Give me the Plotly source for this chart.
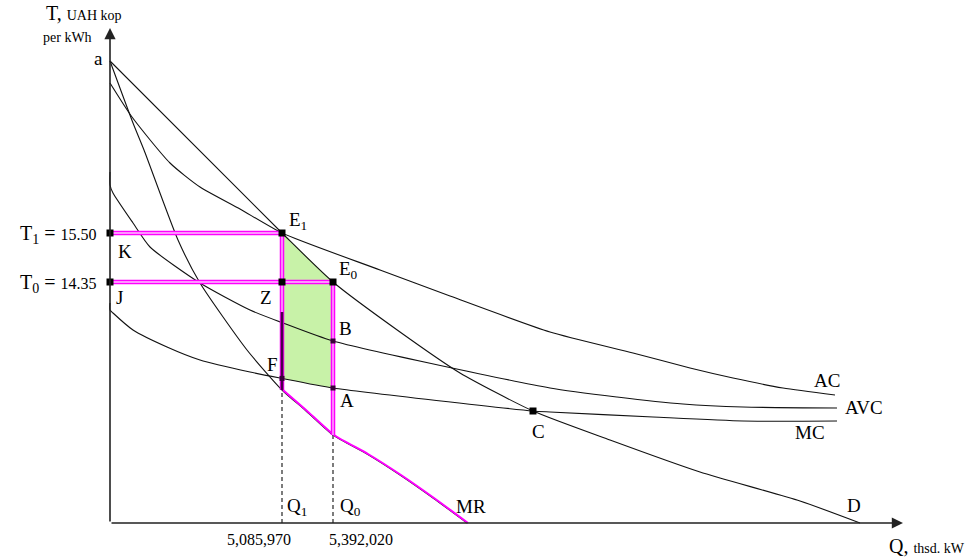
import numpy as np
import plotly.graph_objects as go

# ---------------- data (quantity units, price units) -------------
d_q = [0, 172, 223, 290, 350, 423, 500, 590, 690, 750]
d_p = [462, 290, 241, 191, 150, 112, 83, 51, 22, 0]

mr_q = [0, 23, 34, 68, 90, 137, 172, 195, 223, 257, 290, 323, 357]
mr_p = [462, 400, 373, 283, 240, 173, 133, 113, 88, 69, 48, 25, 0]

ac_q = [0, 22, 60, 90, 130, 172, 270, 340, 440, 523, 580, 623, 673, 725]
ac_p = [440, 406, 360, 336, 314, 290, 253, 227, 191, 170, 155, 145, 135, 128]

avc_q = [0, 0, 3, 23, 40, 90, 140, 173, 223, 440, 507, 573, 633, 727]
avc_p = [351, 338, 330, 300, 276, 240, 213, 200, 182, 135, 126, 119, 116, 115]

mc_q = [0, 0, 3, 23, 57, 90, 140, 170, 223, 423, 440, 543, 633, 727]
mc_p = [220, 213, 210, 193, 176, 163, 151, 145, 135, 112, 111, 106, 102, 102]

Q1, Q0 = 172, 223          # quantities of the two equilibria
T1, T0 = 290, 241          # tariffs
C_Q = 423                  # D meets MC
DARK_TOP = 211             # top of the bold segment on Q1

price_labels = ["T<sub>1</sub> = 15.50", "T<sub>0</sub> = 14.35"]
qty_labels = ["5,085,970", "5,392,020"]

# ---------------- figure ------------------------------------------------------------
FONT = "Liberation Serif"
BLACK = "#111111"
MAG = "#ff00ff"
PINK = "#ffc4ff"

def interp(q, xs, ys):
    return float(np.interp(q, xs, ys))

fig = go.Figure()

# deadweight-loss area (between D and MC, from Q1 to Q0)
g_q = [q for q in d_q if Q1 <= q <= Q0]
top = [interp(q, d_q, d_p) for q in g_q]
bot_q = [Q0] + [q for q in mc_q[::-1] if Q1 < q < Q0] + [Q1]
bot = [interp(q, mc_q, mc_p) for q in bot_q]
fig.add_trace(go.Scatter(x=g_q + bot_q + [g_q[0]], y=top + bot + [top[0]],
                         fill="toself", fillcolor="#c8f2a8", mode="none",
                         hoverinfo="skip"))

# black curves
for xs, ys in [(d_q, d_p), (mr_q, mr_p), (ac_q, ac_p), (avc_q, avc_p), (mc_q, mc_p)]:
    fig.add_trace(go.Scatter(x=xs, y=ys, mode="lines",
                             line=dict(color=BLACK, width=1.1, shape="spline", smoothing=0.6),
                             hoverinfo="skip"))

mr_q1 = interp(Q1, mr_q, mr_p)
mr_q0 = interp(Q0, mr_q, mr_p)

# dashed drop lines to the quantity axis
for q, top_p in [(Q1, mr_q1), (Q0, mr_q0)]:
    fig.add_trace(go.Scatter(x=[q, q], y=[0, top_p], mode="lines",
                             line=dict(color=BLACK, width=1.1, dash="4px,3px"),
                             hoverinfo="skip"))

# magenta MR segment beyond Q1
seg_q = [Q1] + [q for q in mr_q if q > Q1]
seg_p = [interp(q, mr_q, mr_p) for q in seg_q]
fig.add_trace(go.Scatter(x=[q + 1 for q in seg_q], y=seg_p, mode="lines",
                         line=dict(color=MAG, width=2.0, shape="spline", smoothing=0.6),
                         hoverinfo="skip"))

# magenta double lines
mag_lines = [
    ([0, Q1], [T1, T1]),
    ([0, Q0], [T0, T0]),
    ([Q1, Q1], [T1, mr_q1]),
    ([Q0, Q0], [T0, mr_q0]),
]
for xs, ys in mag_lines:
    fig.add_trace(go.Scatter(x=xs, y=ys, mode="lines",
                             line=dict(color=MAG, width=4.5), hoverinfo="skip"))
for xs, ys in mag_lines:
    fig.add_trace(go.Scatter(x=xs, y=ys, mode="lines",
                             line=dict(color=PINK, width=1.3), hoverinfo="skip"))

# bold dark segment on Q1
fig.add_trace(go.Scatter(x=[Q1, Q1], y=[DARK_TOP, mr_q1], mode="lines",
                         line=dict(color="#4a004a", width=2.6), hoverinfo="skip"))

# points
big_x = [0, 0, Q1, Q1, Q0, C_Q]
big_y = [T1, T0, T1, T0, T0, interp(C_Q, mc_q, mc_p)]
fig.add_trace(go.Scatter(x=big_x, y=big_y, mode="markers",
                         marker=dict(symbol="square", size=7, color="black"),
                         hoverinfo="skip"))
small_x = [Q0, Q0, Q1]
small_y = [interp(Q0, avc_q, avc_p), interp(Q0, mc_q, mc_p), interp(Q1, mc_q, mc_p)]
fig.add_trace(go.Scatter(x=small_x, y=small_y, mode="markers",
                         marker=dict(symbol="square", size=5, color="#3a003a"),
                         hoverinfo="skip"))

# axes with arrows
fig.add_annotation(x=0, y=495, ax=0, ay=0, xref="x", yref="y", axref="x", ayref="y",
                   text="", showarrow=True, arrowhead=2, arrowsize=1.4,
                   arrowwidth=1.6, arrowcolor="#222")
fig.add_annotation(x=793, y=0, ax=0, ay=0, xref="x", yref="y", axref="x", ayref="y",
                   text="", showarrow=True, arrowhead=2, arrowsize=1.4,
                   arrowwidth=1.6, arrowcolor="#222")

def label(x, y, text, size=19, xanchor="center", yanchor="middle"):
    fig.add_annotation(x=x, y=y, xref="x", yref="y", text=text, showarrow=False,
                       xanchor=xanchor, yanchor=yanchor,
                       font=dict(family=FONT, size=size, color="black"))

SMALL = "<span style='font-size:14px'>{}</span>"

# axis titles
label(-66, 510, "T, " + SMALL.format("UAH kop"), 20, "left")
label(-69, 486, "per kWh", 14, "left")
label(777, -23, "Q, " + SMALL.format("thsd. kW"), 20, "left")

# tick labels
def price_text(s):
    head, tail = s.split("= ")
    return head + "= <span style='font-size:16px'>" + tail + "</span>"

label(-11, T1 - 1, price_text(price_labels[0]), 20, "right")
label(-11, T0 - 1, price_text(price_labels[1]), 20, "right")
label(Q1 - 23, -16, qty_labels[0], 16)
label(Q0 + 28, -16, qty_labels[1], 16)

# point / curve labels
label(-12, 465, "a")
label(15, 272, "K")
label(9, 226, "J")
label(156, 226, "Z")
label(177, 302, "E<sub>1</sub>", 19, "left")
label(227, 253, "E<sub>0</sub>", 19, "left")
label(227, 195, "B", 19, "left")
label(162, 159, "F")
label(228, 123, "A", 19, "left")
label(428, 92, "C")
label(744, 18, "D")
label(717, 143, "AC")
label(733, 116, "AVC", 19, "left")
label(700, 91, "MC")
label(361, 17, "MR")
label(175, 16, "Q<sub>1</sub>", 19, "left")
label(228, 16, "Q<sub>0</sub>", 19, "left")

fig.update_layout(
    width=979, height=560, margin=dict(l=0, r=0, t=0, b=0),
    paper_bgcolor="white", plot_bgcolor="white", showlegend=False,
    xaxis=dict(range=[-110, 869], visible=False, fixedrange=True),
    yaxis=dict(range=[-37, 523], visible=False, fixedrange=True),
)

fig.write_html("out.html",
               config={"displayModeBar": False, "staticPlot": True},
               post_script="document.body.style.margin='0';"
                           "document.body.style.overflow='hidden';")
